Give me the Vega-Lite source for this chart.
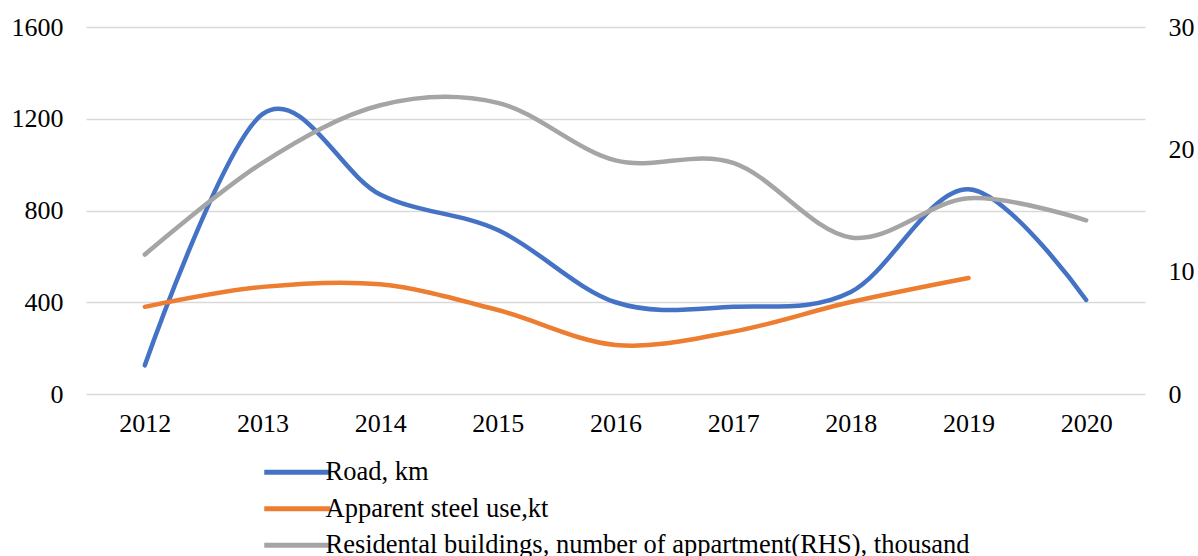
{
  "$schema": "https://vega.github.io/schema/vega-lite/v6.json",
  "width": 1059,
  "height": 367,
  "autosize": "none",
  "padding": {"left": 86, "top": 27, "right": 53, "bottom": 162},
  "background": "white",
  "config": {
    "view": {"stroke": null},
    "font": "Liberation Serif",
    "axis": {"labelFont": "Liberation Serif", "labelFontSize": 26, "labelColor": "#000000"},
    "legend": {"labelFont": "Liberation Serif", "labelFontSize": 26.5, "labelColor": "#000000", "labelLimit": 0}
  },
  "data": {
    "values": [
      {"year": "2012", "series": "Road, km", "value": 125},
      {"year": "2013", "series": "Road, km", "value": 1220},
      {"year": "2014", "series": "Road, km", "value": 870},
      {"year": "2015", "series": "Road, km", "value": 715},
      {"year": "2016", "series": "Road, km", "value": 400},
      {"year": "2017", "series": "Road, km", "value": 380},
      {"year": "2018", "series": "Road, km", "value": 445},
      {"year": "2019", "series": "Road, km", "value": 893},
      {"year": "2020", "series": "Road, km", "value": 410},
      {"year": "2012", "series": "Apparent steel use,kt", "value": 380},
      {"year": "2013", "series": "Apparent steel use,kt", "value": 467},
      {"year": "2014", "series": "Apparent steel use,kt", "value": 478},
      {"year": "2015", "series": "Apparent steel use,kt", "value": 366},
      {"year": "2016", "series": "Apparent steel use,kt", "value": 214},
      {"year": "2017", "series": "Apparent steel use,kt", "value": 272},
      {"year": "2018", "series": "Apparent steel use,kt", "value": 401},
      {"year": "2019", "series": "Apparent steel use,kt", "value": 506},
      {"year": "2012", "series": "Residental buildings, number of appartment(RHS), thousand", "value": 11.4},
      {"year": "2013", "series": "Residental buildings, number of appartment(RHS), thousand", "value": 18.9},
      {"year": "2014", "series": "Residental buildings, number of appartment(RHS), thousand", "value": 23.6},
      {"year": "2015", "series": "Residental buildings, number of appartment(RHS), thousand", "value": 23.8},
      {"year": "2016", "series": "Residental buildings, number of appartment(RHS), thousand", "value": 19.1},
      {"year": "2017", "series": "Residental buildings, number of appartment(RHS), thousand", "value": 18.9},
      {"year": "2018", "series": "Residental buildings, number of appartment(RHS), thousand", "value": 12.8},
      {"year": "2019", "series": "Residental buildings, number of appartment(RHS), thousand", "value": 16.0},
      {"year": "2020", "series": "Residental buildings, number of appartment(RHS), thousand", "value": 14.2}
    ]
  },
  "encoding": {
    "x": {
      "field": "year", "type": "ordinal",
      "scale": {"type": "point", "padding": 0.5},
      "axis": {"title": null, "labelAngle": 0, "domain": false, "ticks": false, "grid": false, "labelPadding": 16}
    },
    "color": {
      "field": "series", "type": "nominal",
      "scale": {
        "domain": ["Road, km", "Apparent steel use,kt", "Residental buildings, number of appartment(RHS), thousand"],
        "range": ["#4472C4", "#ED7D31", "#A5A5A5"]
      },
      "legend": {
        "title": null, "orient": "none", "direction": "vertical",
        "legendX": 198, "legendY": 432,
        "symbolType": "M-3.3,0H3.3", "symbolSize": 400, "symbolStrokeWidth": 5,
        "rowPadding": 9.5, "labelOffset": 15
      }
    }
  },
  "layer": [
    {
      "transform": [{"filter": "datum.series !== 'Residental buildings, number of appartment(RHS), thousand'"}],
      "mark": {"type": "line", "interpolate": "cardinal", "tension": 0, "strokeWidth": 4.5, "strokeCap": "round"},
      "encoding": {
        "y": {
          "field": "value", "type": "quantitative",
          "scale": {"domain": [0, 1600]},
          "axis": {"title": null, "format": "d", "values": [0, 400, 800, 1200, 1600], "domain": false, "ticks": false, "gridColor": "#D9D9D9", "gridWidth": 1.3, "labelPadding": 23}
        }
      }
    },
    {
      "transform": [{"filter": "datum.series === 'Residental buildings, number of appartment(RHS), thousand'"}],
      "mark": {"type": "line", "interpolate": "cardinal", "tension": 0, "strokeWidth": 4.5, "strokeCap": "round"},
      "encoding": {
        "y": {
          "field": "value", "type": "quantitative",
          "scale": {"domain": [0, 30]},
          "axis": {"title": null, "orient": "right", "values": [0, 10, 20, 30], "domain": false, "ticks": false, "grid": false, "labelPadding": 23}
        }
      }
    }
  ],
  "resolve": {"scale": {"y": "independent"}}
}
